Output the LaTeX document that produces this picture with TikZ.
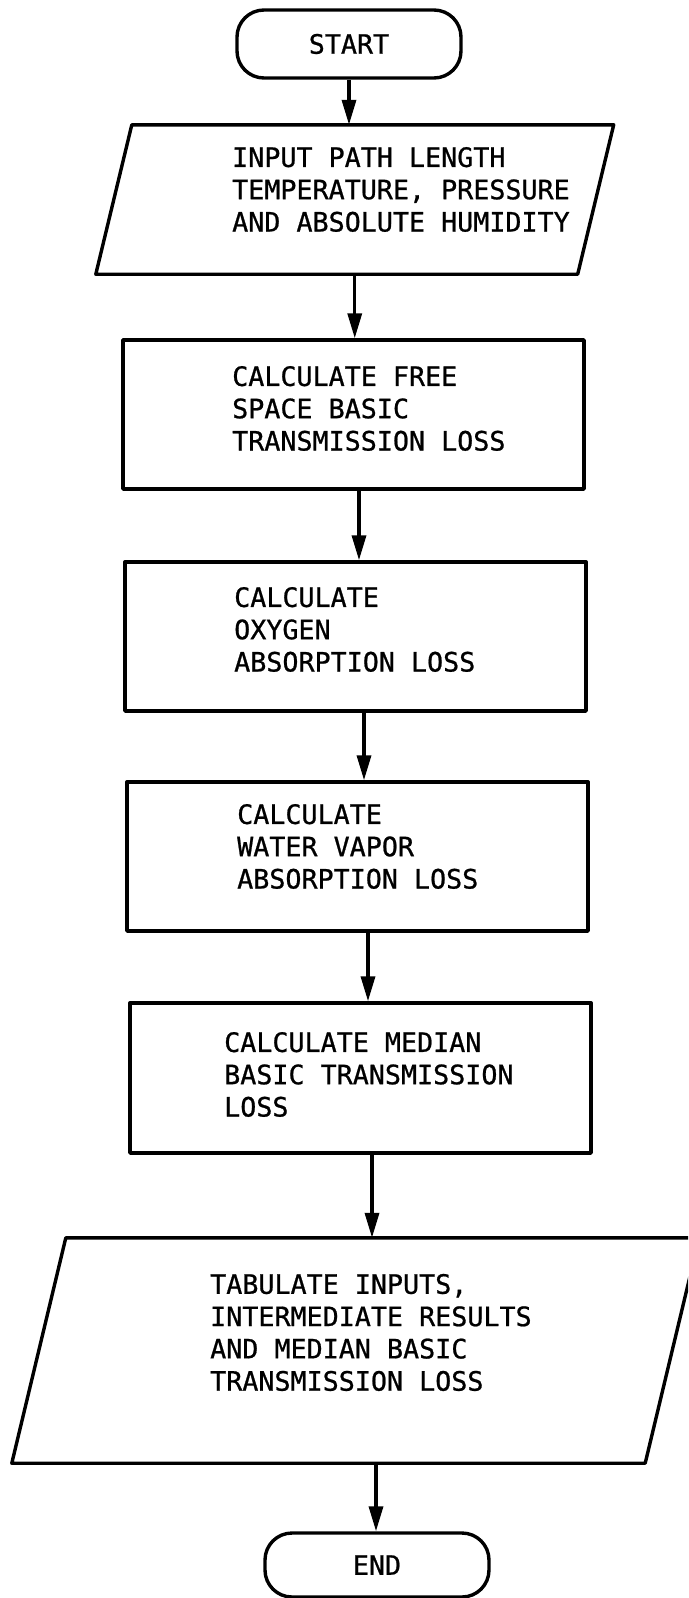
\documentclass[tikz,border=0pt]{standalone}
\usepackage{fontspec}
\newfontfamily\lett[FakeBold=0.8]{DejaVu Sans Mono}
\usetikzlibrary{arrows.meta}

\tikzset{
  ln/.style={line width=3.4pt, line join=round},
  term/.style={ln, draw, rectangle, rounded corners=27pt, inner sep=0pt,
    font=\lett\fontsize{26.7}{32.3}\selectfont},
  procbox/.style={ln, draw, rectangle, inner sep=0pt},
  iobox/.style={rectangle, inner sep=0pt},
  txt/.style={anchor=west, align=left, inner sep=0pt,
    font=\lett\fontsize{26.7}{32.3}\selectfont},
  arr/.style={ln, -{Triangle[length=25pt, width=14pt]}}
}

\begin{document}
\begin{tikzpicture}[x=1pt, y=-1pt]
  \useasboundingbox (0,0) rectangle (688,1598);
  \clip (0,0) rectangle (688,1598);

  % terminals
  \node[term, minimum width=224pt, minimum height=68pt] (start) at (349,44) {START};
  \node[term, minimum width=224pt, minimum height=64pt] (end) at (377,1565) {END};

  % input / output parallelograms (node = mid rectangle, sides slanted)
  \node[iobox, minimum width=481.5pt, minimum height=149pt] (in) at (354.75,199.5) {};
  \draw[ln] ([xshift=18pt]in.north west) -- ([xshift=18pt]in.north east)
    -- ([xshift=-18pt]in.south east) -- ([xshift=-18pt]in.south west) -- cycle;
  \node[txt] (tin) at (232,189.5)
    {INPUT PATH LENGTH\\TEMPERATURE, PRESSURE\\AND ABSOLUTE HUMIDITY};

  \node[iobox, minimum width=633pt, minimum height=225pt] (out) at (355.5,1350.5) {};
  \draw[ln] ([xshift=27pt]out.north west) -- ([xshift=27pt]out.north east)
    -- ([xshift=-27pt]out.south east) -- ([xshift=-27pt]out.south west) -- cycle;
  \node[txt] (tout) at (210,1332.5)
    {TABULATE INPUTS,\\INTERMEDIATE RESULTS\\AND MEDIAN BASIC\\TRANSMISSION LOSS};

  % processing steps
  \node[procbox, minimum width=461pt, minimum height=149pt] (b1) at (353.5,414.5) {};
  \node[txt] (t1) at (232,408.5) {CALCULATE FREE\\SPACE BASIC\\TRANSMISSION LOSS};

  \node[procbox, minimum width=461pt, minimum height=149pt] (b2) at (355.5,636.5) {};
  \node[txt] (t2) at (234,629.5) {CALCULATE\\OXYGEN\\ABSORPTION LOSS};

  \node[procbox, minimum width=461pt, minimum height=149pt] (b3) at (357.5,856.5) {};
  \node[txt] (t3) at (237,846.5) {CALCULATE\\WATER VAPOR\\ABSORPTION LOSS};

  \node[procbox, minimum width=461pt, minimum height=150pt] (b4) at (360.5,1078) {};
  \node[txt] (t4) at (224,1074.5) {CALCULATE MEDIAN\\BASIC TRANSMISSION\\LOSS};

  % flow
  \draw[arr] (start.south) -- (start.south |- in.north);
  \draw[arr] (in.south) -- (in.south |- b1.north);
  \draw[arr] ([xshift=5.5pt]b1.south) -- ([xshift=5.5pt]b1.south |- b2.north);
  \draw[arr] ([xshift=8.5pt]b2.south) -- ([xshift=8.5pt]b2.south |- b3.north);
  \draw[arr] ([xshift=10.5pt]b3.south) -- ([xshift=10.5pt]b3.south |- b4.north);
  \draw[arr] ([xshift=11.5pt]b4.south) -- ([xshift=11.5pt]b4.south |- out.north);
  \draw[arr] ([xshift=20.5pt]out.south) -- ([xshift=20.5pt]out.south |- end.north);
\end{tikzpicture}
\end{document}
